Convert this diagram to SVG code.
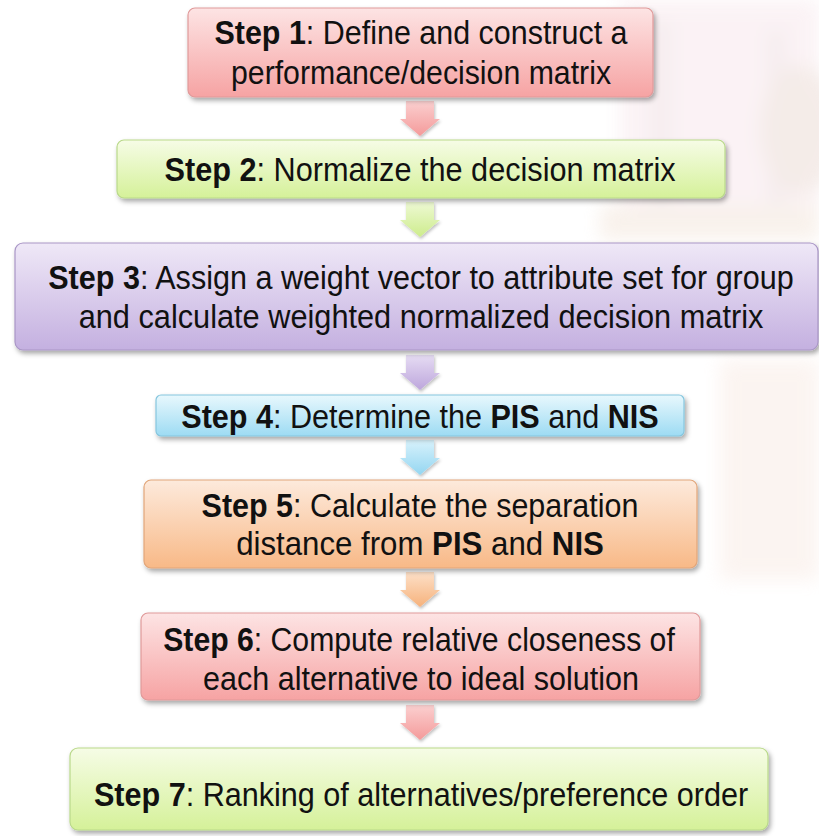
<svg xmlns="http://www.w3.org/2000/svg" width="819" height="836" viewBox="0 0 819 836">
  <defs>
    <style>
      .lbl { font-family: "Liberation Sans", Arial, sans-serif; font-size: 33px; fill: #111; }
      .b { font-weight: bold; }
      .box { stroke-width: 1.2; }
    </style>
    <filter id="shadow" x="-5%" y="-20%" width="112%" height="150%">
      <feDropShadow dx="2" dy="3" stdDeviation="2.5" flood-color="#000" flood-opacity="0.35"/>
    </filter>
    <filter id="ashadow" x="-30%" y="-20%" width="160%" height="150%">
      <feDropShadow dx="1" dy="2" stdDeviation="1.5" flood-color="#000" flood-opacity="0.25"/>
    </filter>
    <filter id="haze" x="-20%" y="-20%" width="140%" height="140%"><feGaussianBlur stdDeviation="9"/></filter>
    <linearGradient id="gPink" x1="0" y1="0" x2="0" y2="1">
      <stop offset="0" stop-color="#fde4e4"/>
      <stop offset="1" stop-color="#f6a3a3"/>
    </linearGradient>
    <linearGradient id="gGreen" x1="0" y1="0" x2="0" y2="1">
      <stop offset="0" stop-color="#f6fce6"/>
      <stop offset="1" stop-color="#d5f199"/>
    </linearGradient>
    <linearGradient id="gViolet" x1="0" y1="0" x2="0" y2="1">
      <stop offset="0" stop-color="#efe8f7"/>
      <stop offset="1" stop-color="#c4b0e0"/>
    </linearGradient>
    <linearGradient id="gCyan" x1="0" y1="0" x2="0" y2="1">
      <stop offset="0" stop-color="#e8f8fd"/>
      <stop offset="1" stop-color="#9ddbf3"/>
    </linearGradient>
    <linearGradient id="gOrange" x1="0" y1="0" x2="0" y2="1">
      <stop offset="0" stop-color="#fdeadc"/>
      <stop offset="1" stop-color="#f8b987"/>
    </linearGradient>
    <linearGradient id="aPink" x1="0" y1="0" x2="0" y2="1">
      <stop offset="0" stop-color="#fbd0d0"/>
      <stop offset="1" stop-color="#f49a9a"/>
    </linearGradient>
    <linearGradient id="aGreen" x1="0" y1="0" x2="0" y2="1">
      <stop offset="0" stop-color="#eef9d4"/>
      <stop offset="1" stop-color="#cdec8c"/>
    </linearGradient>
    <linearGradient id="aViolet" x1="0" y1="0" x2="0" y2="1">
      <stop offset="0" stop-color="#e6dcf3"/>
      <stop offset="1" stop-color="#bda6dc"/>
    </linearGradient>
    <linearGradient id="aCyan" x1="0" y1="0" x2="0" y2="1">
      <stop offset="0" stop-color="#d8f2fc"/>
      <stop offset="1" stop-color="#94d6f1"/>
    </linearGradient>
    <linearGradient id="aOrange" x1="0" y1="0" x2="0" y2="1">
      <stop offset="0" stop-color="#fde0c8"/>
      <stop offset="1" stop-color="#f6b27c"/>
    </linearGradient>
    <!-- down arrow shape, origin at top centre, 35 tall -->
    <path id="arrowShape" d="M-14 0 H14 V18 H20 L0 35 L-20 18 H-14 Z"/>
  </defs>

  <rect width="819" height="836" fill="#ffffff"/>

  <!-- faded building backdrop on the right -->
  <g id="backdrop" opacity="0.42" filter="url(#haze)">
    <rect x="620" y="0" width="199" height="220" fill="#f6e2e8"/>
    <rect x="652" y="20" width="18" height="200" fill="#e8d4d8"/>
    <rect x="768" y="30" width="16" height="190" fill="#e8d4d8"/>
    <ellipse cx="800" cy="130" rx="40" ry="65" fill="#e6d2ca"/>
    <rect x="600" y="205" width="219" height="35" fill="#f0e0d2"/>
    <rect x="720" y="360" width="99" height="220" fill="#f7e6de"/>
  </g>

  <!-- connectors -->
  <g id="connectors" filter="url(#ashadow)">
    <use href="#arrowShape" transform="translate(420,101)" fill="url(#aPink)"/>
    <use href="#arrowShape" transform="translate(420,202)" fill="url(#aGreen)"/>
    <use href="#arrowShape" transform="translate(420,355)" fill="url(#aViolet)"/>
    <use href="#arrowShape" transform="translate(420,440)" fill="url(#aCyan)"/>
    <use href="#arrowShape" transform="translate(420,572)" fill="url(#aOrange)"/>
    <use href="#arrowShape" transform="translate(420,705)" fill="url(#aPink)"/>
  </g>

  <g id="step1">
    <rect class="box" x="188" y="8" width="465" height="89" rx="7" fill="url(#gPink)" stroke="#e09a9a" filter="url(#shadow)"/>
    <text class="lbl" text-anchor="middle" transform="translate(421,44) scale(0.923,1)"><tspan class="b">Step 1</tspan>: Define and construct a</text>
    <text class="lbl" text-anchor="middle" transform="translate(421,84) scale(0.917,1)">performance/decision matrix</text>
  </g>

  <g id="step2">
    <rect class="box" x="117" y="140" width="608" height="58" rx="7" fill="url(#gGreen)" stroke="#b9d98a" filter="url(#shadow)"/>
    <text class="lbl" text-anchor="middle" transform="translate(420,181) scale(0.929,1)"><tspan class="b">Step 2</tspan>: Normalize the decision matrix</text>
  </g>

  <g id="step3">
    <rect class="box" x="15" y="243" width="803" height="107" rx="8" fill="url(#gViolet)" stroke="#a996c6" filter="url(#shadow)"/>
    <text class="lbl" text-anchor="middle" transform="translate(421,289) scale(0.926,1)"><tspan class="b">Step 3</tspan>: Assign a weight vector to attribute set for group</text>
    <text class="lbl" text-anchor="middle" transform="translate(421,328) scale(0.931,1)">and calculate weighted normalized decision matrix</text>
  </g>

  <g id="step4">
    <rect class="box" x="156" y="395" width="528" height="41" rx="5" fill="url(#gCyan)" stroke="#86c6de" filter="url(#shadow)"/>
    <text class="lbl" text-anchor="middle" transform="translate(420,428) scale(0.927,1)"><tspan class="b">Step 4</tspan>: Determine the <tspan class="b">PIS</tspan> and <tspan class="b">NIS</tspan></text>
  </g>

  <g id="step5">
    <rect class="box" x="144" y="480" width="553" height="88" rx="7" fill="url(#gOrange)" stroke="#e2a67a" filter="url(#shadow)"/>
    <text class="lbl" text-anchor="middle" transform="translate(420,517) scale(0.923,1)"><tspan class="b">Step 5</tspan>: Calculate the separation</text>
    <text class="lbl" text-anchor="middle" transform="translate(420,555) scale(0.946,1)">distance from <tspan class="b">PIS</tspan> and <tspan class="b">NIS</tspan></text>
  </g>

  <g id="step6">
    <rect class="box" x="141" y="613" width="559" height="87" rx="7" fill="url(#gPink)" stroke="#e09a9a" filter="url(#shadow)"/>
    <text class="lbl" text-anchor="middle" transform="translate(419,651) scale(0.915,1)"><tspan class="b">Step 6</tspan>: Compute relative closeness of</text>
    <text class="lbl" text-anchor="middle" transform="translate(421,690) scale(0.925,1)">each alternative to ideal solution</text>
  </g>

  <g id="step7">
    <rect class="box" x="70" y="748" width="698" height="82" rx="8" fill="url(#gGreen)" stroke="#b9d98a" filter="url(#shadow)"/>
    <text class="lbl" text-anchor="middle" transform="translate(421,806) scale(0.927,1)"><tspan class="b">Step 7</tspan>: Ranking of alternatives/preference order</text>
  </g>
</svg>
